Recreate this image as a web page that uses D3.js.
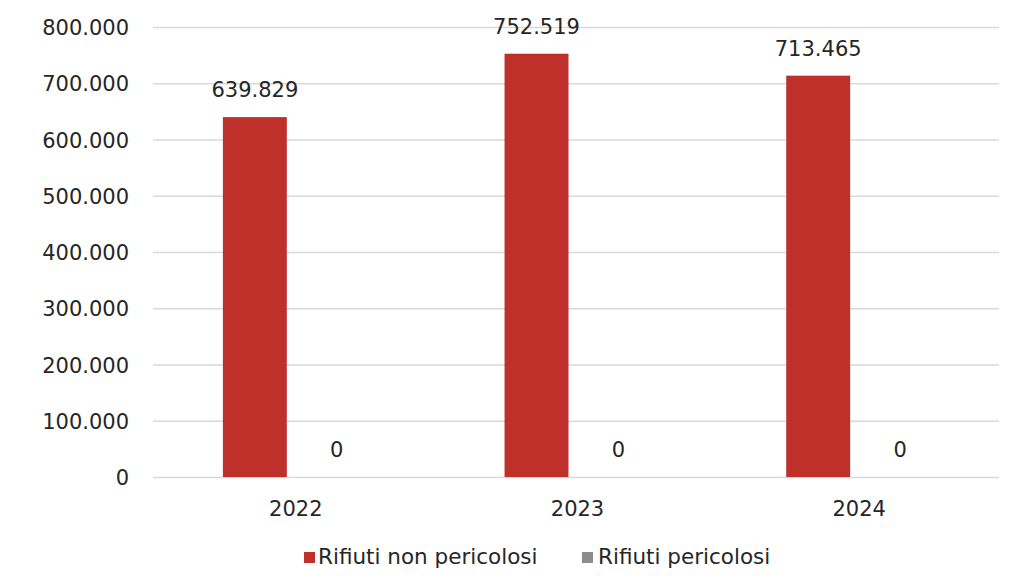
<!DOCTYPE html>
<html>
<head>
<meta charset="utf-8">
<script src="https://cdn.jsdelivr.net/npm/d3@7"></script>
<style>
  html, body { margin: 0; padding: 0; background: #fff; }
  svg { display: block; }
  text { font-family: "DejaVu Sans", sans-serif; fill: #262626; }
</style>
</head>
<body>
<svg id="chart" width="1014" height="579"></svg>
<script>
const years = ["2022", "2023", "2024"];
const seriesNames = ["Rifiuti non pericolosi", "Rifiuti pericolosi"];
const nonPericolosi = [639829, 752519, 713465];
const pericolosi = [0, 0, 0];
const yTicks = [0, 100000, 200000, 300000, 400000, 500000, 600000, 700000, 800000];
const seriesColors = ["#C0302A", "#8C8C8C"];

const locale = d3.formatLocale({ decimal: ",", thousands: ".", grouping: [3], currency: ["€", ""] });
const fmt = locale.format(",d");

const svg = d3.select("#chart");
const plotLeft = 153, plotRight = 999, plotTop = 27, plotBottom = 477;

const x0 = d3.scaleBand().domain(years).range([plotLeft + 2, plotRight + 1]).paddingInner(0.482).paddingOuter(0.241);
const x1 = d3.scaleBand().domain(seriesNames).range([0, x0.bandwidth()]).paddingInner(0.22).paddingOuter(0);
const y = d3.scaleLinear().domain([0, 800000]).range([plotBottom, plotTop]);
const color = d3.scaleOrdinal().domain(seriesNames).range(seriesColors);

// gridlines
const yAxis = d3.axisLeft(y).tickValues(yTicks).tickSize(-(plotRight - plotLeft)).tickPadding(24).tickFormat(fmt);
const gy = svg.append("g").attr("transform", `translate(${plotLeft},0)`).call(yAxis);
gy.select(".domain").remove();
gy.selectAll(".tick line").attr("stroke", "#d9d9d9").attr("stroke-width", 1.3);
gy.selectAll(".tick text").attr("font-size", 21).attr("fill", "#262626").attr("dy", "0.36em")
  .style("font-family", '"DejaVu Sans", sans-serif');

// x axis labels
const xAxis = d3.axisBottom(x0).tickSize(0).tickPadding(24);
const gx = svg.append("g").attr("transform", `translate(0,${plotBottom})`).call(xAxis);
gx.select(".domain").remove();
gx.selectAll(".tick text").attr("font-size", 21).attr("fill", "#262626")
  .style("font-family", '"DejaVu Sans", sans-serif');

const data = years.map((yr, i) => ({
  year: yr,
  values: [
    { key: seriesNames[0], value: nonPericolosi[i] },
    { key: seriesNames[1], value: pericolosi[i] }
  ]
}));

const groups = svg.append("g").selectAll("g").data(data).join("g")
  .attr("transform", d => `translate(${x0(d.year)},0)`);

groups.selectAll("rect").data(d => d.values).join("rect")
  .attr("x", d => x1(d.key))
  .attr("width", x1.bandwidth())
  .attr("y", d => y(d.value))
  .attr("height", d => y(0) - y(d.value))
  .attr("fill", d => color(d.key));

groups.selectAll("text.lbl").data(d => d.values).join("text")
  .attr("class", "lbl")
  .attr("x", d => x1(d.key) + x1.bandwidth() / 2)
  .attr("y", d => y(d.value) - 20)
  .attr("text-anchor", "middle")
  .attr("font-size", 21)
  .text(d => fmt(d.value));

// legend
const legendItems = [
  { name: seriesNames[0], sx: 304, tx: 318 },
  { name: seriesNames[1], sx: 582, tx: 598 }
];
const lg = svg.append("g");
legendItems.forEach(it => {
  lg.append("rect").attr("x", it.sx).attr("y", 552).attr("width", 11).attr("height", 11).attr("fill", color(it.name));
  lg.append("text").attr("x", it.tx).attr("y", 564).attr("font-size", 21.5).text(it.name);
});
</script>
</body>
</html>
